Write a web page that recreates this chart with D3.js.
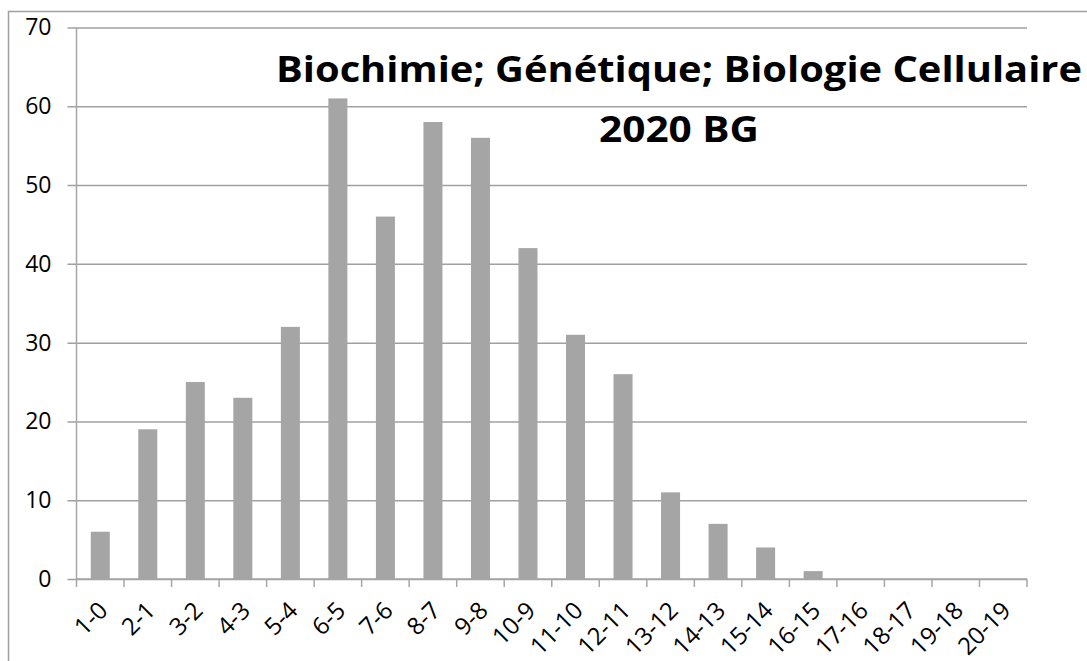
<!DOCTYPE html>
<html>
<head>
<meta charset="utf-8">
<script src="https://cdn.jsdelivr.net/npm/d3@7"></script>
<style>
  body { margin: 0; background: #fff; }
  svg { display: block; }
</style>
</head>
<body>
<div id="chart"></div>
<script>
// score pairs on the x axis and their counts
const categories = ["1-0", "2-1", "3-2", "4-3", "5-4", "6-5", "7-6", "8-7", "9-8", "10-9",
    "11-10", "12-11", "13-12", "14-13", "15-14", "16-15", "17-16", "18-17", "19-18", "20-19"];
const counts = [6, 19, 25, 23, 32, 61, 46, 58, 56, 42, 31, 26, 11, 7, 4, 1, 0, 0, 0, 0];
const yTicks = [0, 10, 20, 30, 40, 50, 60, 70];
const titleLines = ["Biochimie; Génétique; Biologie Cellulaire", "2020 BG"];

const W = 1087, H = 661;
const margin = { top: 27.5, left: 76.5 };
const width = 1027 - margin.left,
    height = 579 - margin.top;
const font = "'Open Sans', 'DejaVu Sans', sans-serif";

var svg = d3.select("#chart")
    .append("svg")
    .attr("width", W)
    .attr("height", H)
    .style("font-family", font);

// outer chart frame (only left and top edges show)
svg.append("rect")
    .attr("x", 8.5).attr("y", 11.5)
    .attr("width", 1200).attr("height", 800)
    .attr("fill", "none")
    .attr("stroke", "#a0a0a0")
    .attr("stroke-width", 1.5);

var xScale = d3.scaleBand().domain(categories).range([0, width]).paddingInner(0.6).paddingOuter(0.3),
    yScale = d3.scaleLinear().domain([0, 70]).range([height, 0]);

var g = svg.append("g")
    .attr("transform", "translate(" + margin.left + "," + margin.top + ")");

// horizontal gridlines + y labels
var yAxis = g.append("g")
    .call(d3.axisLeft(yScale).tickValues(yTicks).tickSize(-width).tickSizeOuter(0).tickPadding(25))
yAxis.select(".domain").remove();
yAxis.selectAll("line")
    .attr("x1", -9)
    .attr("stroke", "#a0a0a0")
    .attr("stroke-width", 1.5);
yAxis.selectAll("text")
    .style("font-size", "23px")
    .style("font-family", font)
    .attr("fill", "#000");

// y axis line
g.append("line")
    .attr("x1", 0).attr("x2", 0)
    .attr("y1", 0).attr("y2", height)
    .attr("stroke", "#a6a6a6")
    .attr("stroke-width", 1.5);

// x axis with ticks between categories
var xAxis = g.append("g")
    .attr("transform", "translate(0," + height + ")");
xAxis.append("line")
    .attr("x1", 0).attr("x2", width)
    .attr("stroke", "#a6a6a6")
    .attr("stroke-width", 1.5);
xAxis.selectAll(".tk")
    .data(d3.range(categories.length + 1))
    .enter().append("line")
    .attr("class", "tk")
    .attr("x1", (i) => i * width / categories.length)
    .attr("x2", (i) => i * width / categories.length)
    .attr("y1", 0).attr("y2", 8)
    .attr("stroke", "#a6a6a6")
    .attr("stroke-width", 1.5);

xAxis.selectAll(".lbl")
    .data(categories)
    .enter().append("text")
    .attr("class", "lbl")
    .attr("text-anchor", "end")
    .style("font-size", "24px")
    .attr("fill", "#000")
    .attr("transform", (d) => "translate(" + (xScale(d) + xScale.bandwidth() / 2 + 3) + ",27) rotate(-45)")
    .attr("dy", "0.35em")
    .text((d) => d);

g.selectAll(".bar")
    .data(categories.map((c, i) => ({ c: c, v: counts[i] })))
    .enter().append("rect")
    .attr("class", "bar")
    .attr("x", (d) => xScale(d.c))
    .attr("y", (d) => yScale(d.v))
    .attr("width", xScale.bandwidth())
    .attr("height", (d) => height - yScale(d.v))
    .attr("fill", "#a5a5a5");

// title, two lines
svg.selectAll(".title")
    .data(titleLines)
    .enter().append("text")
    .attr("class", "title")
    .attr("x", 679)
    .attr("y", (d, i) => i == 0 ? 82 : 142)
    .attr("text-anchor", "middle")
    .attr("font-weight", "bold")
    .style("font-size", "36px")
    .attr("textLength", (d, i) => i == 0 ? 806 : 160)
    .attr("lengthAdjust", "spacingAndGlyphs")
    .attr("fill", "#000")
    .text((d) => d);
</script>
</body>
</html>
